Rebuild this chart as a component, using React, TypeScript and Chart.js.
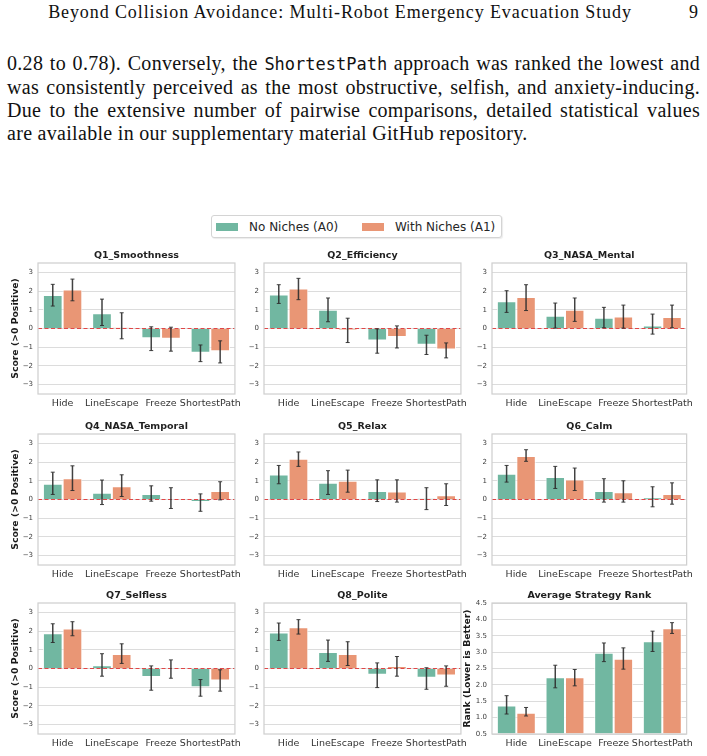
import React, { useEffect, useRef } from "react";
import { Chart, registerables } from "chart.js";

Chart.register(...registerables);

// ---------- data ----------
const STRATEGIES = ["Hide", "LineEscape", "Freeze", "ShortestPath"];
const GROUP_LABELS = ["No Niches (A0)", "With Niches (A1)"];
const SCORE_TICKS = [-3, -2, -1, 0, 1, 2, 3];
const RANK_TICKS = [0.5, 1.0, 1.5, 2.0, 2.5, 3.0, 3.5, 4.0, 4.5];

const q1A0 = [1.79, 0.82, -0.52, -1.3];
const q1A1 = [2.09, 0.05, -0.55, -1.21];
const q1A0Ci = [[1.2, 2.36], [0.16, 1.57], [-1.18, 0.09], [-1.77, -0.88]];
const q1A1Ci = [[1.48, 2.64], [-0.55, 0.84], [-1.21, 0.07], [-1.84, -0.66]];

const q2A0 = [1.82, 1.0, -0.64, -0.87];
const q2A1 = [2.14, -0.09, -0.45, -1.12];
const q2A0Ci = [[1.34, 2.34], [0.36, 1.63], [-1.32, -0.02], [-1.39, -0.36]];
const q2A1Ci = [[1.54, 2.68], [-0.75, 0.55], [-1.04, 0.14], [-1.57, -0.77]];

const q3A0 = [1.46, 0.68, 0.57, 0.16];
const q3A1 = [1.68, 1.0, 0.64, 0.61];
const q3A0Ci = [[0.86, 2.02], [0.02, 1.36], [0.04, 1.13], [-0.3, 0.77]];
const q3A1Ci = [[0.96, 2.34], [0.38, 1.63], [0.02, 1.25], [0.04, 1.25]];

const q4A0 = [0.84, 0.36, 0.29, -0.14];
const q4A1 = [1.14, 0.71, 0.04, 0.46];
const q4A0Ci = [[0.27, 1.46], [-0.27, 1.04], [-0.09, 0.73], [-0.63, 0.3]];
const q4A1Ci = [[0.48, 1.8], [0.16, 1.32], [-0.48, 0.63], [-0.02, 0.95]];

const q5A0 = [1.34, 0.89, 0.46, 0.05];
const q5A1 = [2.18, 1.0, 0.43, 0.23];
const q5A0Ci = [[0.84, 1.82], [0.27, 1.54], [-0.11, 1.05], [-0.54, 0.63]];
const q5A1Ci = [[1.77, 2.54], [0.39, 1.57], [-0.14, 1.05], [-0.32, 0.84]];

const q6A0 = [1.38, 1.2, 0.46, 0.11];
const q6A1 = [2.32, 1.07, 0.39, 0.29];
const q6A0Ci = [[0.93, 1.82], [0.59, 1.77], [-0.14, 1.11], [-0.39, 0.68]];
const q6A1Ci = [[2.04, 2.66], [0.48, 1.68], [-0.14, 1.0], [-0.25, 0.89]];

const q7A0 = [1.89, 0.18, -0.46, -1.0];
const q7A1 = [2.14, 0.77, -0.02, -0.64];
const q7A0Ci = [[1.39, 2.39], [-0.41, 0.79], [-1.16, 0.14], [-1.48, -0.59]];
const q7A1Ci = [[1.75, 2.5], [0.27, 1.32], [-0.52, 0.46], [-1.21, -0.07]];

const q8A0 = [1.93, 0.88, -0.34, -0.5];
const q8A1 = [2.2, 0.77, 0.13, -0.38];
const q8A0Ci = [[1.5, 2.43], [0.38, 1.52], [-1.02, 0.3], [-1.11, 0.04]];
const q8A1Ci = [[1.84, 2.61], [0.16, 1.43], [-0.41, 0.64], [-0.95, 0.14]];

const rankA0 = [1.37, 2.23, 2.98, 3.33];
const rankA1 = [1.15, 2.23, 2.8, 3.73];
const rankA0Ci = [[1.11, 1.67], [1.91, 2.6], [2.71, 3.28], [3.02, 3.64]];
const rankA1Ci = [[1.05, 1.31], [1.97, 2.47], [2.48, 3.13], [3.57, 3.9]];

// ---------- styling ----------
const COLOR_A0 = "#71b7a1";
const COLOR_A1 = "#e99675";
const GRID = "#dcdcdc";
const SPINE = "#d0d0d0";
const SANS = "DejaVu Sans";
const SERIF = "Liberation Serif";

const COL_LEFT = [38, 264, 492];
const COL_WIDTH = [198, 198, 196];
const ROW_TOP = [263, 434, 603];
const PLOT_H = 131;
const AX_W = 38;
const TOP_PAD = 20;
const X_H = 22;
const RIGHT_PAD = 10;

type PanelSpec = {
  title: string;
  a0: number[];
  a1: number[];
  a0Ci: number[][];
  a1Ci: number[][];
  rank?: boolean;
  yLabel?: string;
  col: number;
  row: number;
};

const PANELS: PanelSpec[] = [
  { title: "Q1_Smoothness", a0: q1A0, a1: q1A1, a0Ci: q1A0Ci, a1Ci: q1A1Ci, yLabel: "Score (>0 Positive)", col: 0, row: 0 },
  { title: "Q2_Efficiency", a0: q2A0, a1: q2A1, a0Ci: q2A0Ci, a1Ci: q2A1Ci, col: 1, row: 0 },
  { title: "Q3_NASA_Mental", a0: q3A0, a1: q3A1, a0Ci: q3A0Ci, a1Ci: q3A1Ci, col: 2, row: 0 },
  { title: "Q4_NASA_Temporal", a0: q4A0, a1: q4A1, a0Ci: q4A0Ci, a1Ci: q4A1Ci, yLabel: "Score (>0 Positive)", col: 0, row: 1 },
  { title: "Q5_Relax", a0: q5A0, a1: q5A1, a0Ci: q5A0Ci, a1Ci: q5A1Ci, col: 1, row: 1 },
  { title: "Q6_Calm", a0: q6A0, a1: q6A1, a0Ci: q6A0Ci, a1Ci: q6A1Ci, col: 2, row: 1 },
  { title: "Q7_Selfless", a0: q7A0, a1: q7A1, a0Ci: q7A0Ci, a1Ci: q7A1Ci, yLabel: "Score (>0 Positive)", col: 0, row: 2 },
  { title: "Q8_Polite", a0: q8A0, a1: q8A1, a0Ci: q8A0Ci, a1Ci: q8A1Ci, col: 1, row: 2 },
  { title: "Average Strategy Rank", a0: rankA0, a1: rankA1, a0Ci: rankA0Ci, a1Ci: rankA1Ci, rank: true, yLabel: "Rank (Lower is Better)", col: 2, row: 2 },
];

const fmtTick = (v: number, rank: boolean) =>
  rank ? v.toFixed(1) : v < 0 ? "\u2212" + Math.abs(v) : String(v);

// zero reference line, confidence-interval whiskers, axes frame and panel title
function decorPlugin(spec: PanelSpec) {
  return {
    id: "decor",
    afterDatasetsDraw(chart: any) {
      const { ctx, chartArea: a } = chart;
      const ys = chart.scales.y;
      ctx.save();
      if (!spec.rank) {
        const y0 = ys.getPixelForValue(0);
        ctx.beginPath();
        ctx.setLineDash([4, 2.5]);
        ctx.strokeStyle = "rgba(225,45,45,0.85)";
        ctx.lineWidth = 1.2;
        ctx.moveTo(a.left, y0);
        ctx.lineTo(a.right, y0);
        ctx.stroke();
        ctx.setLineDash([]);
      }
      [spec.a0Ci, spec.a1Ci].forEach((ci, di) => {
        const meta = chart.getDatasetMeta(di);
        meta.data.forEach((bar: any, j: number) => {
          const x = bar.x;
          const yLo = ys.getPixelForValue(ci[j][0]);
          const yHi = ys.getPixelForValue(ci[j][1]);
          ctx.strokeStyle = "rgba(45,45,45,0.9)";
          ctx.lineWidth = 1.5;
          ctx.beginPath();
          ctx.moveTo(x, yLo);
          ctx.lineTo(x, yHi);
          ctx.stroke();
          ctx.lineWidth = 1;
          ctx.beginPath();
          ctx.moveTo(x - 2, yLo);
          ctx.lineTo(x + 2, yLo);
          ctx.moveTo(x - 2, yHi);
          ctx.lineTo(x + 2, yHi);
          ctx.stroke();
        });
      });
      ctx.strokeStyle = SPINE;
      ctx.lineWidth = 1.25;
      ctx.strokeRect(a.left, a.top, a.right - a.left, a.bottom - a.top);

      ctx.fillStyle = "#1f1f1f";
      ctx.font = `bold 9.5px "${SANS}"`;
      ctx.textAlign = "center";
      ctx.textBaseline = "middle";
      ctx.fillText(spec.title, (a.left + a.right) / 2, a.top - 7);
      ctx.restore();
    },
  };
}

function Panel({ spec }: { spec: PanelSpec }) {
  const ref = useRef<HTMLCanvasElement>(null);
  const plotW = COL_WIDTH[spec.col];
  const w = AX_W + plotW + RIGHT_PAD;
  const h = TOP_PAD + PLOT_H + X_H;
  const left = COL_LEFT[spec.col] - AX_W;
  const top = ROW_TOP[spec.row] - TOP_PAD;

  useEffect(() => {
    const rank = !!spec.rank;
    const tickValues = rank ? RANK_TICKS : SCORE_TICKS;
    const chart = new Chart(ref.current as HTMLCanvasElement, {
      type: "bar",
      data: {
        labels: STRATEGIES,
        datasets: [
          {
            label: GROUP_LABELS[0],
            data: spec.a0,
            backgroundColor: COLOR_A0,
            borderColor: "rgba(255,255,255,0.85)",
            borderWidth: 1,
            base: rank ? 0.5 : 0,
          },
          {
            label: GROUP_LABELS[1],
            data: spec.a1,
            backgroundColor: COLOR_A1,
            borderColor: "rgba(255,255,255,0.85)",
            borderWidth: 1,
            base: rank ? 0.5 : 0,
          },
        ] as any,
      },
      options: {
        responsive: false,
        animation: false,
        devicePixelRatio: 1,
        events: [],
        layout: { padding: { top: TOP_PAD, right: RIGHT_PAD, bottom: 0, left: 0 } },
        datasets: { bar: { categoryPercentage: 0.8, barPercentage: 1.0 } },
        plugins: {
          legend: { display: false },
          tooltip: { enabled: false },
          title: { display: false },
        },
        scales: {
          x: {
            type: "category",
            offset: true,
            grid: { display: false, drawTicks: false },
            border: { display: false },
            ticks: {
              color: "#333333",
              font: { family: SANS, size: 9.5 },
              padding: 4,
              maxRotation: 0,
              autoSkip: false,
            },
            afterFit: (s: any) => {
              s.height = X_H;
            },
          },
          y: {
            min: rank ? 0.5 : -3.5,
            max: rank ? 4.5 : 3.5,
            afterBuildTicks: (s: any) => {
              s.ticks = tickValues.map((v) => ({ value: v }));
            },
            grid: { color: GRID, lineWidth: 1, drawTicks: false },
            border: { display: false },
            ticks: {
              color: "#3c3c3c",
              font: { family: SANS, size: 7 },
              padding: 5,
              callback: (v: any) => fmtTick(Number(v), rank),
            },
            title: {
              display: !!spec.yLabel,
              text: spec.yLabel || "",
              color: "#1a1a1a",
              font: { family: SANS, size: 9.3, weight: "bold", lineHeight: 1.2 },
              padding: { top: rank ? 8.4 : 10.4, bottom: 0 },
            },
            afterFit: (s: any) => {
              s.width = AX_W;
            },
          },
        },
      } as any,
      plugins: [decorPlugin(spec)],
    });
    return () => chart.destroy();
  }, [spec]);

  return (
    <canvas
      ref={ref}
      width={w}
      height={h}
      style={{ position: "absolute", left, top, width: w, height: h }}
    />
  );
}

function Legend() {
  const item = (color: string, text: string, x: number) => (
    <div style={{ position: "absolute", left: x, top: 0, height: 21, display: "flex", alignItems: "center" }}>
      <div style={{ width: 22, height: 8, background: color }} />
      <span style={{ marginLeft: 11, fontFamily: SANS, fontSize: 12, color: "#262626", whiteSpace: "nowrap" }}>{text}</span>
    </div>
  );
  return (
    <div
      style={{
        position: "absolute",
        left: 211,
        top: 215,
        width: 289,
        height: 21,
        border: "1px solid #d4d4d4",
        borderRadius: 3,
        background: "#fff",
        boxShadow: "1px 1px 1px rgba(0,0,0,0.08)",
      }}
    >
      {item(COLOR_A0, GROUP_LABELS[0], 4)}
      {item(COLOR_A1, GROUP_LABELS[1], 150)}
    </div>
  );
}

const bodyLine: React.CSSProperties = {
  position: "absolute",
  left: 7,
  width: 693,
  fontFamily: SERIF,
  fontSize: 20,
  letterSpacing: "0.3px",
  lineHeight: "23px",
  color: "#111",
  whiteSpace: "nowrap",
};
const justified: React.CSSProperties = {
  ...bodyLine,
  textAlign: "justify",
  textAlignLast: "justify",
};
const mono: React.CSSProperties = { fontFamily: "DejaVu Sans Mono", fontSize: 17, letterSpacing: 0 };

export default function App() {
  return (
    <div
      style={{
        position: "absolute",
        left: 0,
        top: 0,
        width: 707,
        height: 756,
        background: "#fff",
        overflow: "hidden",
      }}
    >
      <div
        style={{
          position: "absolute",
          left: 0,
          width: 680,
          top: 1,
          textAlign: "center",
          fontFamily: SERIF,
          fontSize: 18,
          letterSpacing: "0.9px",
          lineHeight: "22px",
          color: "#111",
          whiteSpace: "nowrap",
        }}
      >
        Beyond Collision Avoidance: Multi-Robot Emergency Evacuation Study
      </div>
      <div
        style={{
          position: "absolute",
          left: 678,
          width: 20,
          top: 1,
          textAlign: "right",
          fontFamily: SERIF,
          fontSize: 18,
          lineHeight: "22px",
          color: "#111",
        }}
      >
        9
      </div>

      <div style={{ ...justified, top: 52 }}>
        0.28 to 0.78). Conversely, the <span style={mono}>ShortestPath</span> approach was ranked the lowest and
      </div>
      <div style={{ ...justified, top: 76 }}>
        was consistently perceived as the most obstructive, selfish, and anxiety-inducing.
      </div>
      <div style={{ ...justified, top: 99 }}>
        Due to the extensive number of pairwise comparisons, detailed statistical values
      </div>
      <div style={{ ...bodyLine, top: 122 }}>
        are available in our supplementary material GitHub repository.
      </div>

      <Legend />
      {PANELS.map((p) => (
        <Panel key={p.title} spec={p} />
      ))}
    </div>
  );
}
